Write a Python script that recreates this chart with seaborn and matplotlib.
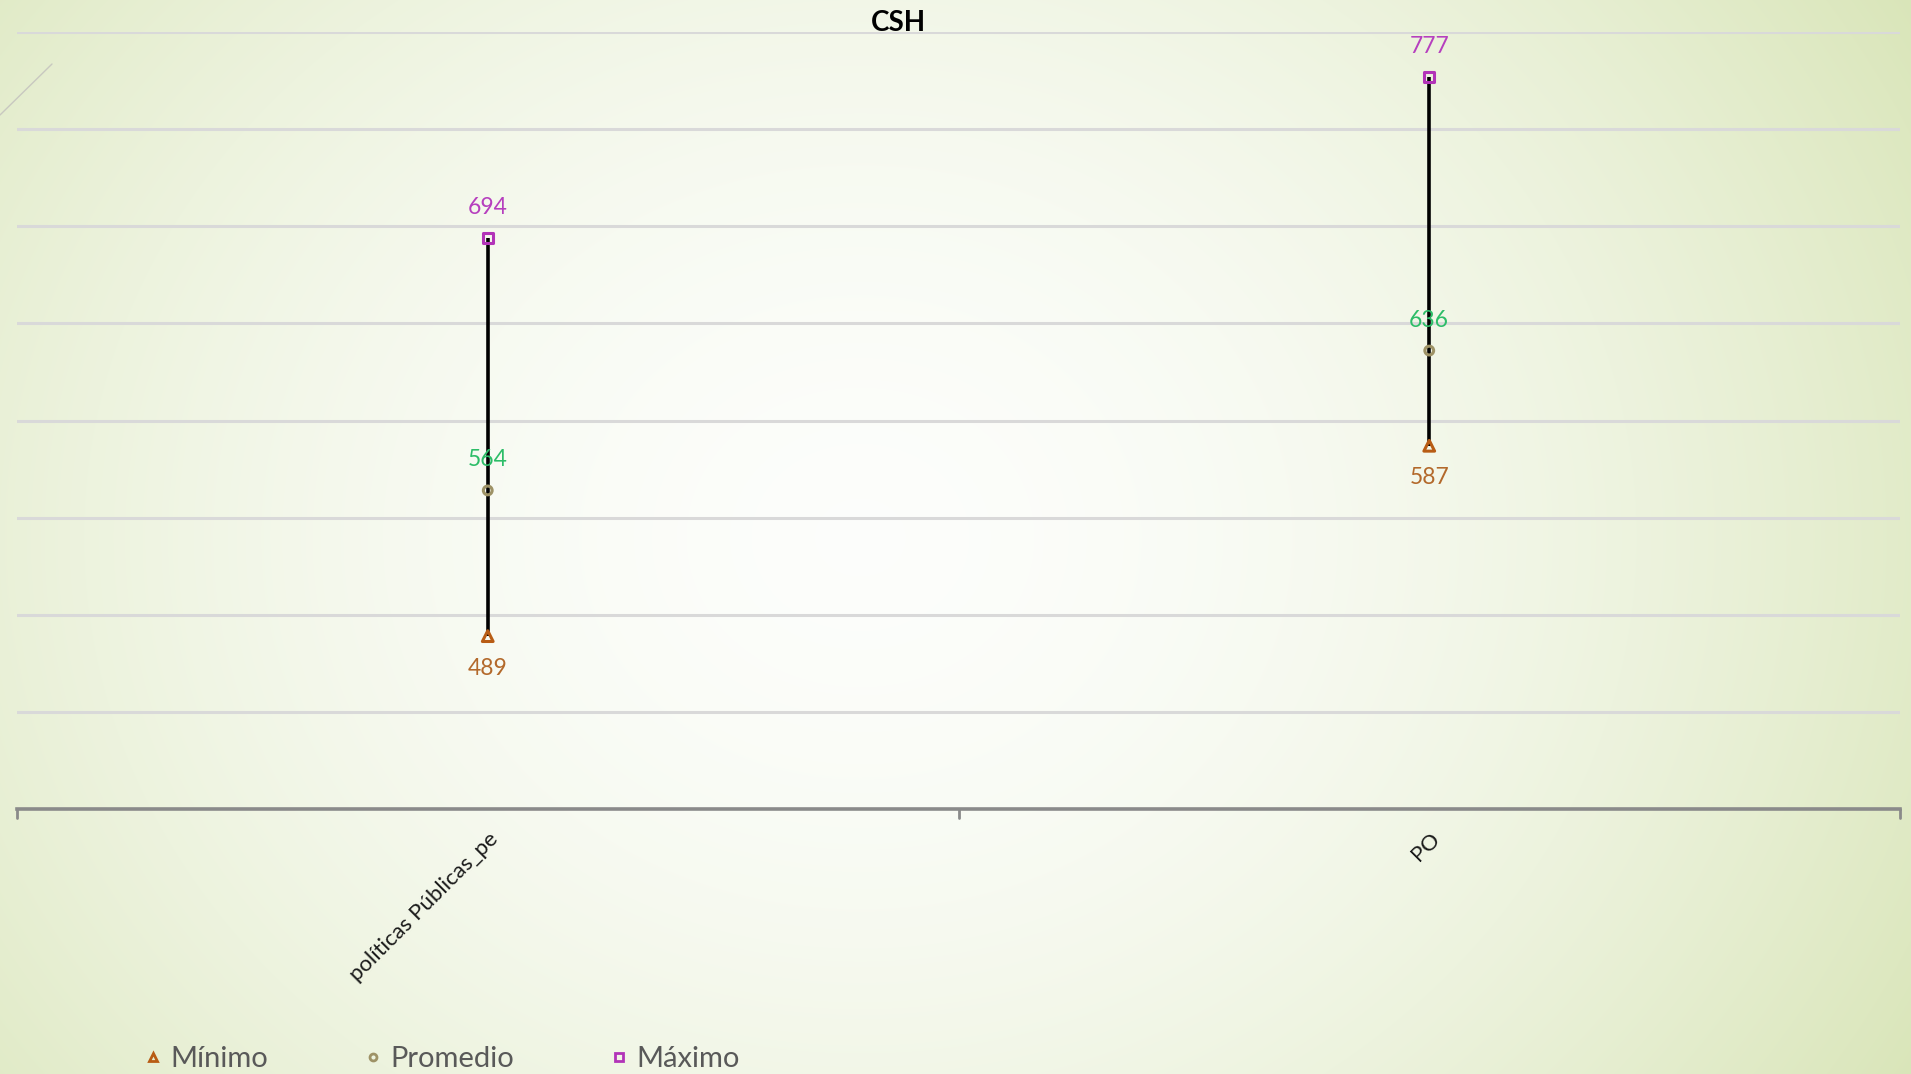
import numpy as np
import pandas as pd
import matplotlib
matplotlib.use("Agg")
import matplotlib.pyplot as plt
from matplotlib.lines import Line2D
import seaborn as sns

# ---- data ----
categories = ["políticas Públicas_pe", "PO"]
minimo = [489, 587]
promedio = [564, 636]
maximo = [694, 777]
series_names = ["Mínimo", "Promedio", "Máximo"]
title = "CSH"

sns.set_theme(style="white")
plt.rcParams['font.family'] = ['Lato', 'DejaVu Sans']

W, H, DPI = 1911, 1074, 100
fig = plt.figure(figsize=(W / DPI, H / DPI), dpi=DPI)

# background gradient (white center fading to pale green)
bg = fig.add_axes([0, 0, 1, 1], zorder=-10)
yy, xx = np.mgrid[0:H, 0:W]
cx, cy = 0.45 * W, 0.50 * H
d = np.sqrt(((xx - cx) / (0.62 * W)) ** 2 + ((yy - cy) / (0.95 * H)) ** 2)
f = np.clip(d, 0, 1.2) ** 1.8
white = np.array([0.99, 0.995, 0.985])
green = np.array([0.86, 0.905, 0.74])
img = white[None, None, :] * (1 - f[..., None]) + green[None, None, :] * f[..., None]
img = np.clip(img, 0, 1)
bg.imshow(img, aspect="auto", extent=[0, 1, 0, 1], origin="upper")
bg.axis("off")
fig.add_artist(Line2D([0, 52 / W], [1 - 115 / H, 1 - 64 / H], transform=fig.transFigure,
                      color="#c8c8c0", lw=1))

ax = fig.add_axes([17 / W, 1 - 809 / H, (1900 - 17) / W, (809 - 32) / H])
ax.set_facecolor("none")

df = pd.DataFrame({
    "cat": categories * 3,
    "value": minimo + promedio + maximo,
    "serie": [s for s in series_names for _ in categories],
})

colors = {"Mínimo": "#b85c14", "Promedio": "#9e9266", "Máximo": "#b233b8"}
markers = {"Mínimo": "^", "Promedio": "o", "Máximo": "s"}
sizes_map = {"Mínimo": 60, "Promedio": 40, "Máximo": 55}

# vertical high-low lines
ax.vlines(categories, minimo, maximo, color="black", lw=2.6, zorder=2)

for s in series_names:
    sub = df[df.serie == s]
    sns.scatterplot(data=sub, x="cat", y="value", ax=ax, marker=markers[s],
                    s=sizes_map[s], facecolor="none", edgecolor=colors[s],
                    linewidth=2.2, zorder=3, legend=False)

label_colors = {"Mínimo": "#b3692b", "Promedio": "#2dbd68", "Máximo": "#b63fbe"}
offsets = {"Mínimo": -23, "Promedio": 22, "Máximo": 22}
for s, vals in zip(series_names, [minimo, promedio, maximo]):
    for i, v in enumerate(vals):
        ax.annotate(f"{v}", (i, v), xytext=(0, offsets[s]), textcoords="offset points",
                    ha="center", va="center", fontsize=16.5, color=label_colors[s])

ax.set_xlim(-0.5, 1.5)
ax.set_ylim(400, 800)
ax.set_yticks(np.arange(400, 801, 50))
ax.yaxis.grid(True, color="#d9d9d9", lw=2.2)
ax.set_axisbelow(True)
ax.tick_params(axis="y", left=False, labelleft=False)
for sp in ["left", "right", "top"]:
    ax.spines[sp].set_visible(False)
ax.spines["bottom"].set_color("#8a8a8a")
ax.spines["bottom"].set_linewidth(2.6)

ax.set_xticks([0, 1])
ax.set_xticklabels(categories, rotation=45, ha="right", va="top",
                   rotation_mode="anchor", fontsize=16, color="#1a1a1a")
ax.tick_params(axis="x", bottom=False, pad=8)
for xb in [-0.5, 0.5, 1.5]:
    ax.plot([xb, xb], [0, -0.012], transform=ax.get_xaxis_transform(),
            color="#8a8a8a", lw=2, clip_on=False)
ax.set_xlabel("")
ax.set_ylabel("")

fig.text(898 / W, 1 - 23 / H, title, ha="center", va="center", fontsize=20,
         fontweight="bold", color="black")

handles = [Line2D([], [], marker=markers[s], linestyle="none", markersize=6 if s != "Promedio" else 5,
                  markerfacecolor="none", markeredgecolor=colors[s], markeredgewidth=2)
           for s in series_names]
fig.legend(handles, series_names, loc="center left", bbox_to_anchor=(112 / W, 1 - 1059 / H),
           ncol=3, frameon=False, fontsize=21, columnspacing=3.1, handletextpad=0.1,
           handlelength=1.0, labelcolor="#595959")

fig.savefig("out.png", dpi=DPI)
